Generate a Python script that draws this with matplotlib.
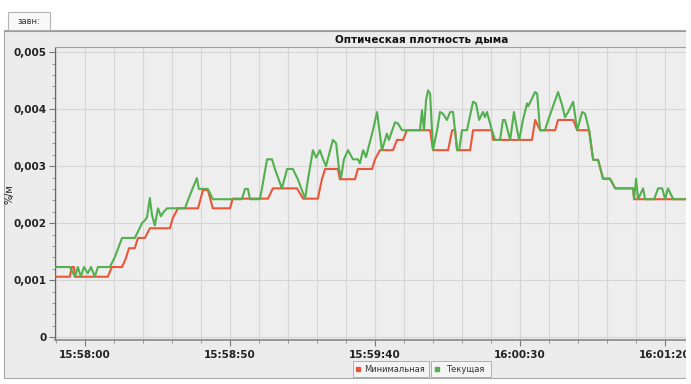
import matplotlib
matplotlib.use("Agg")
import matplotlib.pyplot as plt
from matplotlib.patches import Rectangle
from matplotlib.lines import Line2D
from matplotlib.ticker import MultipleLocator, FuncFormatter

# время в секундах от 15:58:00, значения в 0,001 %/м
green_t = [-10.3, -5.2, -3.4, -2.4, -1.4, -0.3, 1.0, 2.1, 3.4, 4.5, 8.6, 10.3, 11.4, 12.8,
           17.2, 18.3, 19.7, 20.7, 21.4, 22.4, 23.1, 24.1, 25.2, 26.2, 26.9, 28.3, 34.5,
           35.5, 36.9, 38.6, 39.3, 42.4, 44.1, 54.1, 55.2, 56.2, 56.9, 60.3, 61.0, 61.7,
           62.8, 64.5, 65.5, 67.9, 69.7, 71.7, 73.4, 75.9, 76.9, 78.6, 79.7, 81.0, 82.1,
           83.1, 85.5, 86.6, 87.6, 88.3, 89.3, 90.7, 92.4, 94.1, 94.8, 95.9, 96.9, 99.3,
           100.7, 102.4, 104.1, 104.8, 106.9, 107.9, 109.3, 115.5, 116.2, 116.9, 117.6,
           118.3, 119.0, 120.0, 121.4, 122.4, 123.4, 124.8, 125.9, 126.9, 128.3, 129.0,
           130.0, 131.7, 133.8, 134.8, 135.9, 137.2, 137.9, 138.6, 140.3, 141.4, 143.1,
           144.1, 144.8, 146.6, 147.9, 149.0, 149.7, 151.0, 152.4, 152.8, 155.2, 155.9,
           156.9, 158.6, 159.7, 163.1, 164.5, 165.5, 166.6, 168.3, 169.7, 171.4, 172.4,
           173.8, 175.2, 176.9, 178.6, 181.0, 182.8, 189.0, 189.3, 190.0, 190.7, 192.4,
           193.1, 196.2, 197.6, 199.0, 200.0, 201.0, 202.8, 207.2]
green_v = [1.23, 1.23, 1.06, 1.23, 1.06, 1.23, 1.12, 1.23, 1.06, 1.23, 1.23, 1.40, 1.55, 1.74,
           1.74, 1.85, 2.0, 2.05, 2.1, 2.44, 2.15, 1.96, 2.26, 2.12, 2.18, 2.26, 2.26,
           2.4, 2.58, 2.79, 2.6, 2.6, 2.42, 2.42, 2.6, 2.6, 2.42, 2.42, 2.6, 2.8,
           3.12, 3.12, 2.95, 2.61, 2.95, 2.95, 2.77, 2.43, 2.77, 3.28, 3.15, 3.28, 3.12,
           3.0, 3.46, 3.40, 2.95, 2.8, 3.12, 3.28, 3.12, 3.12, 3.05, 3.28, 3.16, 3.63,
           3.95, 3.28, 3.57, 3.46, 3.77, 3.75, 3.63, 3.63, 3.98, 3.63, 4.16,
           4.33, 4.27, 3.28, 3.63, 3.95, 3.92, 3.81, 3.95, 3.95, 3.28, 3.28,
           3.63, 3.63, 4.13, 4.10, 3.81, 3.95, 3.86, 3.95, 3.63, 3.46, 3.46,
           3.81, 3.81, 3.46, 3.95, 3.63, 3.46, 3.81, 4.10, 4.05, 4.30, 4.27,
           3.63, 3.63, 3.81, 4.30, 4.07, 3.86, 3.95, 4.13, 3.63, 3.95, 3.92,
           3.63, 3.11, 3.11, 2.78, 2.78, 2.61, 2.61, 2.42, 2.78, 2.42, 2.61,
           2.42, 2.42, 2.61, 2.61, 2.42, 2.61, 2.42, 2.42]

red_t = [-10.3, -5.2, -4.5, -3.8, -3.4, 7.9, 9.3, 12.8, 14.1, 15.2, 17.2, 18.3, 20.7, 22.4,
         29.3, 30.3, 32.1, 39.0, 40.7, 42.4, 44.1, 50.0, 51.0, 63.1, 64.8, 73.1, 75.2,
         80.3, 81.7, 82.8, 87.2, 87.9, 93.1, 94.1, 99.0, 100.0, 101.7, 106.2, 107.6,
         109.7, 111.0, 119.0, 120.0, 125.2, 126.6, 127.6, 128.3, 132.8, 133.8, 140.3,
         140.7, 154.1, 155.2, 156.9, 162.1, 163.1, 168.3, 169.7, 173.8, 175.2, 176.9,
         178.6, 181.0, 182.8, 189.0, 189.3, 207.2]
red_v = [1.06, 1.06, 1.23, 1.23, 1.06, 1.06, 1.23, 1.23, 1.38, 1.56, 1.56, 1.74, 1.74, 1.91,
         1.91, 2.09, 2.26, 2.26, 2.58, 2.58, 2.26, 2.26, 2.43, 2.43, 2.61, 2.61, 2.43,
         2.43, 2.77, 2.95, 2.95, 2.77, 2.77, 2.95, 2.95, 3.12, 3.28, 3.28, 3.46,
         3.46, 3.63, 3.63, 3.28, 3.28, 3.63, 3.63, 3.28, 3.28, 3.63, 3.63,
         3.46, 3.46, 3.81, 3.63, 3.63, 3.81, 3.81, 3.63, 3.63, 3.11, 3.11,
         2.78, 2.78, 2.61, 2.61, 2.42, 2.42]

series_names = ["Минимальная", "Текущая"]
title = "Оптическая плотность дыма"
y_label = "%/м"
tab_label = "завн:"

RED = "#e9573a"
GREEN = "#52b04e"
W, H = 691, 384


def fx(px):
    return px / W


def fy(py):
    return 1 - py / H


fig = plt.figure(figsize=(W / 100, H / 100), dpi=100)
fig.patch.set_facecolor("white")

# серая панель и вкладка
fig.add_artist(Rectangle((fx(4), fy(378)), fx(686) - fx(4), fy(30) - fy(378),
                         transform=fig.transFigure, facecolor="#ececec",
                         edgecolor="#a8a8a8", lw=0.8, zorder=-5))
fig.add_artist(Rectangle((fx(8), fy(30)), fx(50) - fx(8), fy(12) - fy(30),
                         transform=fig.transFigure, facecolor="#f8f8f8",
                         edgecolor="#b4b4b4", lw=0.8, zorder=-4))
fig.text(fx(29), fy(21), tab_label, fontsize=6, color="#333333", ha="center", va="center")

ax = fig.add_axes([fx(55), fy(340), fx(686) - fx(55), fy(47) - fy(340)])
ax.set_facecolor("#eeeeee")

ax.plot(red_t, [v / 1000 for v in red_v], color=RED, lw=1.5, zorder=3)
ax.plot(green_t, [v / 1000 for v in green_v], color=GREEN, lw=1.5, zorder=4)

ax.set_xlim(-10.3, 207.2)
ax.set_ylim(-0.00005, 0.00509)

ax.xaxis.set_major_locator(MultipleLocator(50))
ax.xaxis.set_minor_locator(MultipleLocator(10))
ax.yaxis.set_major_locator(MultipleLocator(0.001))
ax.yaxis.set_minor_locator(MultipleLocator(0.0002))


def time_fmt(t, pos):
    s = 15 * 3600 + 58 * 60 + int(round(t))
    return f"{s // 3600:02d}:{s % 3600 // 60:02d}:{s % 60:02d}"


def val_fmt(v, pos):
    if abs(v) < 1e-9:
        return "0"
    return f"{v:.3f}".replace(".", ",")


ax.xaxis.set_major_formatter(FuncFormatter(time_fmt))
ax.yaxis.set_major_formatter(FuncFormatter(val_fmt))

ax.grid(True, which="major", axis="y", color="#d6d6d6", lw=0.8)
ax.grid(True, which="both", axis="x", color="#d6d6d6", lw=0.8)
ax.set_axisbelow(True)

ax.tick_params(axis="both", which="major", length=4, width=0.8, color="#777777",
               labelsize=7.5, labelcolor="#222222", pad=2)
ax.tick_params(axis="both", which="minor", length=2.5, width=0.6, color="#888888")
ax.tick_params(axis="x", which="major", pad=3)
for lbl in ax.get_xticklabels() + ax.get_yticklabels():
    lbl.set_fontweight("bold")

ax.spines["left"].set_color("#666666")
ax.spines["bottom"].set_color("#888888")
ax.spines["bottom"].set_linewidth(1.2)
ax.spines["top"].set_color("#a0a0a0")
ax.spines["right"].set_visible(False)

# полоса заголовка
fig.add_artist(Line2D([fx(4), fx(686)], [fy(31), fy(31)], transform=fig.transFigure,
                      color="#9a9a9a", lw=0.8))
fig.text(fx(422), fy(39), title, fontsize=7.5, fontweight="bold", color="#111111",
         ha="center", va="center")

fig.text(fx(9), fy(194), y_label, fontsize=7, color="#222222", rotation=90,
         ha="center", va="center")

# легенда
boxes = [(353, 429, 358, 364, RED), (431, 491, 437, 446, GREEN)]
for (x0, x1, mx, tx, col), name in zip(boxes, series_names):
    fig.add_artist(Rectangle((fx(x0), fy(377)), fx(x1) - fx(x0), fy(361) - fy(377),
                             transform=fig.transFigure, facecolor="#f4f4f4",
                             edgecolor="#b0b0b0", lw=0.7, zorder=2))
    fig.add_artist(Line2D([fx(mx)], [fy(369)], transform=fig.transFigure, marker="s",
                          markersize=2.5, color=col, lw=0, zorder=3))
    fig.text(fx(tx), fy(369), name, fontsize=6, color="#333333", ha="left", va="center",
             zorder=3)

# обрез справа, как на скриншоте
fig.add_artist(Rectangle((fx(686), 0), 1 - fx(686), 1, transform=fig.transFigure,
                         facecolor="white", edgecolor="none", zorder=10))

fig.savefig("out.png", dpi=100)
